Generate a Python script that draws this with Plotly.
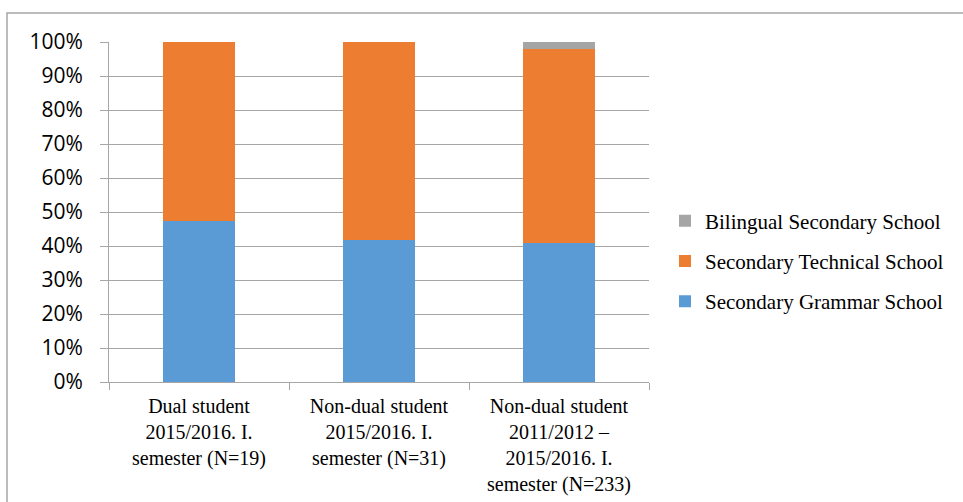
import plotly.graph_objects as go

categories = [
    "Dual student<br>2015/2016. I.<br>semester (N=19)",
    "Non-dual student<br>2015/2016. I.<br>semester (N=31)",
    "Non-dual student<br>2011/2012 –<br>2015/2016. I.<br>semester (N=233)",
]
grammar = [0.474, 0.419, 0.408]
technical = [0.526, 0.581, 0.571]
bilingual = [0.0, 0.0, 0.021]

series_names = ["Secondary Grammar School", "Secondary Technical School", "Bilingual Secondary School"]
series_values = [grammar, technical, bilingual]
colors = ["#5b9bd5", "#ed7d31", "#a5a5a5"]
legend_ranks = [3, 2, 1]

W, H = 963, 502
L, R, T, B = 109, 314, 42, 120
pw, ph = W - L - R, H - T - B

def px_x(x):
    return (x - L) / pw

def px_y(y):
    return (H - B - y) / ph

fig = go.Figure()
for name, vals, col, rk in zip(series_names, series_values, colors, legend_ranks):
    fig.add_trace(go.Bar(x=categories, y=vals, name=name, marker_color=col,
                         marker_line_width=0, legendgroup=name, legendrank=rk))

grid = "#a6a6a6"
fig.update_layout(
    width=W, height=H,
    margin=dict(l=L, r=R, t=T, b=B, pad=0, autoexpand=False),
    barmode="stack", bargap=0.6,
    plot_bgcolor="white", paper_bgcolor="white",
    legend=dict(x=px_x(665), y=px_y(261), xanchor="left", yanchor="middle",
                traceorder="grouped", tracegroupgap=10,
                font=dict(family="Liberation Serif", size=21, color="black"),
                bgcolor="rgba(0,0,0,0)"),
    xaxis=dict(showline=True, linecolor=grid, linewidth=1, ticks="outside",
               tickson="boundaries", ticklen=7, tickcolor=grid,
               ticklabelstandoff=6, automargin=False,
               tickfont=dict(family="Liberation Serif", size=20, color="black"),
               showgrid=False),
    yaxis=dict(range=[0, 1], dtick=0.1, tickformat=".0%", showline=True,
               linecolor=grid, linewidth=1, ticks="outside", ticklen=8,
               tickcolor=grid, gridcolor=grid, gridwidth=1, zeroline=False,
               ticklabelstandoff=13, automargin=False,
               tickfont=dict(family="Open Sans", size=21, color="black")),
)
fig.add_shape(type="rect", xref="paper", yref="paper",
              x0=px_x(7), x1=px_x(975), y0=px_y(515), y1=px_y(13),
              line=dict(color="#a6a6a6", width=1.5), fillcolor="rgba(0,0,0,0)",
              layer="below")
fig.write_html("out.html")
